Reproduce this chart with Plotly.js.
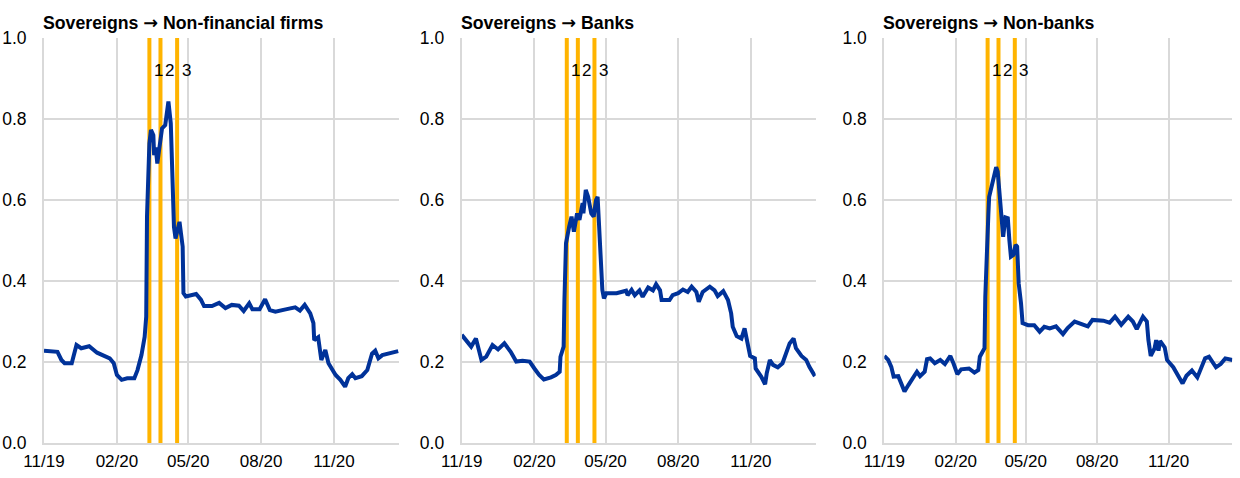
<!DOCTYPE html>
<html>
<head>
<meta charset="utf-8">
<script src="https://cdn.plot.ly/plotly-3.0.1.min.js"></script>
<style>html,body{margin:0;padding:0;background:#fff;}#chart{width:1240px;height:478px;}</style>
</head>
<body>
<div id="chart"></div>
<script>
const panelTitles = ['Sovereigns <span style="font-family:\'DejaVu Sans\'">\u2192</span> Non-financial firms', 'Sovereigns <span style="font-family:\'DejaVu Sans\'">\u2192</span> Banks', 'Sovereigns <span style="font-family:\'DejaVu Sans\'">\u2192</span> Non-banks'];

const nfcDates = ['2019-11-01','2019-11-12','2019-11-18','2019-11-23','2019-11-27','2019-12-06','2019-12-12','2019-12-18','2019-12-28','2020-01-07','2020-01-23','2020-01-28','2020-02-01','2020-02-07','2020-02-14','2020-02-23','2020-02-27','2020-03-03','2020-03-07','2020-03-09','2020-03-10','2020-03-13','2020-03-15','2020-03-18','2020-03-19','2020-03-21','2020-03-23','2020-03-25','2020-03-29','2020-04-02','2020-04-06','2020-04-09','2020-04-11','2020-04-13','2020-04-15','2020-04-20','2020-04-24','2020-04-25','2020-04-28','2020-05-11','2020-05-17','2020-05-21','2020-05-31','2020-06-09','2020-06-17','2020-06-25','2020-07-04','2020-07-10','2020-07-17','2020-07-21','2020-07-30','2020-08-06','2020-08-12','2020-08-19','2020-09-01','2020-09-13','2020-09-19','2020-09-25','2020-10-02','2020-10-06','2020-10-07','2020-10-12','2020-10-16','2020-10-21','2020-10-25','2020-11-03','2020-11-09','2020-11-15','2020-11-19','2020-11-24','2020-11-28','2020-12-06','2020-12-13','2020-12-19','2020-12-23','2020-12-27','2021-01-01','2021-01-09','2021-01-21'];
const nfcValues = [0.228,0.226,0.225,0.205,0.197,0.197,0.242,0.234,0.239,0.223,0.209,0.197,0.168,0.156,0.160,0.160,0.180,0.217,0.262,0.312,0.559,0.740,0.773,0.760,0.711,0.730,0.690,0.720,0.777,0.785,0.843,0.789,0.649,0.534,0.505,0.546,0.485,0.370,0.362,0.368,0.354,0.338,0.338,0.346,0.333,0.341,0.339,0.326,0.345,0.330,0.330,0.355,0.328,0.324,0.330,0.335,0.327,0.341,0.320,0.296,0.254,0.261,0.205,0.230,0.197,0.168,0.156,0.139,0.160,0.170,0.160,0.165,0.180,0.221,0.228,0.209,0.217,0.221,0.227];

const bankDates = ['2019-11-01','2019-11-09','2019-11-13','2019-11-19','2019-11-26','2019-12-02','2019-12-10','2019-12-17','2019-12-25','2020-01-02','2020-01-09','2020-01-17','2020-01-26','2020-02-01','2020-02-07','2020-02-13','2020-02-22','2020-02-28','2020-03-04','2020-03-05','2020-03-09','2020-03-10','2020-03-12','2020-03-16','2020-03-19','2020-03-22','2020-03-24','2020-03-26','2020-03-29','2020-04-02','2020-04-03','2020-04-06','2020-04-09','2020-04-13','2020-04-16','2020-04-19','2020-04-21','2020-04-23','2020-04-24','2020-04-27','2020-04-29','2020-05-02','2020-05-15','2020-05-27','2020-05-29','2020-06-03','2020-06-07','2020-06-13','2020-06-17','2020-06-24','2020-06-30','2020-07-04','2020-07-09','2020-07-11','2020-07-21','2020-07-25','2020-08-01','2020-08-07','2020-08-13','2020-08-18','2020-08-24','2020-08-27','2020-09-01','2020-09-10','2020-09-16','2020-09-20','2020-09-27','2020-10-03','2020-10-07','2020-10-09','2020-10-14','2020-10-20','2020-10-24','2020-10-27','2020-10-31','2020-11-06','2020-11-07','2020-11-14','2020-11-19','2020-11-21','2020-11-25','2020-11-29','2020-12-05','2020-12-11','2020-12-16','2020-12-20','2020-12-25','2020-12-28','2021-01-04','2021-01-10','2021-01-14','2021-01-21'];
const bankValues = [0.267,0.250,0.238,0.258,0.205,0.213,0.242,0.231,0.246,0.225,0.201,0.203,0.201,0.184,0.168,0.157,0.162,0.168,0.176,0.213,0.238,0.353,0.493,0.534,0.559,0.522,0.551,0.567,0.551,0.592,0.567,0.625,0.608,0.567,0.559,0.600,0.608,0.534,0.452,0.378,0.357,0.370,0.370,0.376,0.365,0.378,0.365,0.377,0.361,0.384,0.377,0.392,0.377,0.353,0.353,0.365,0.370,0.379,0.373,0.386,0.373,0.349,0.373,0.386,0.377,0.363,0.375,0.353,0.320,0.287,0.264,0.258,0.283,0.258,0.215,0.209,0.184,0.164,0.145,0.172,0.205,0.193,0.187,0.197,0.221,0.246,0.258,0.234,0.215,0.205,0.188,0.165];

const nonbankDates = ['2019-11-01','2019-11-06','2019-11-10','2019-11-13','2019-11-19','2019-11-23','2019-11-27','2019-12-02','2019-12-08','2019-12-13','2019-12-17','2019-12-23','2019-12-26','2019-12-30','2020-01-05','2020-01-12','2020-01-18','2020-01-25','2020-01-29','2020-02-03','2020-02-08','2020-02-18','2020-02-25','2020-03-01','2020-03-03','2020-03-09','2020-03-10','2020-03-12','2020-03-14','2020-03-15','2020-03-20','2020-03-24','2020-03-26','2020-03-29','2020-04-02','2020-04-05','2020-04-08','2020-04-10','2020-04-12','2020-04-15','2020-04-18','2020-04-20','2020-04-22','2020-04-25','2020-04-27','2020-05-04','2020-05-12','2020-05-19','2020-05-25','2020-06-01','2020-06-09','2020-06-18','2020-06-24','2020-07-03','2020-07-11','2020-07-20','2020-07-26','2020-08-09','2020-08-17','2020-08-24','2020-09-01','2020-09-10','2020-09-16','2020-09-21','2020-09-29','2020-10-04','2020-10-06','2020-10-09','2020-10-14','2020-10-16','2020-10-19','2020-10-21','2020-10-27','2020-10-30','2020-11-07','2020-11-13','2020-11-19','2020-11-24','2020-12-01','2020-12-08','2020-12-14','2020-12-18','2020-12-23','2021-01-01','2021-01-07','2021-01-13','2021-01-22'];
const nonbankValues = [0.215,0.205,0.188,0.164,0.165,0.147,0.127,0.143,0.160,0.176,0.165,0.176,0.207,0.209,0.197,0.205,0.195,0.215,0.197,0.170,0.182,0.184,0.174,0.180,0.213,0.234,0.361,0.501,0.567,0.608,0.649,0.681,0.670,0.596,0.509,0.557,0.555,0.501,0.460,0.464,0.489,0.485,0.394,0.345,0.296,0.291,0.291,0.275,0.287,0.283,0.288,0.269,0.284,0.300,0.294,0.288,0.304,0.302,0.297,0.312,0.292,0.312,0.300,0.281,0.312,0.300,0.254,0.215,0.234,0.254,0.228,0.252,0.236,0.205,0.187,0.168,0.147,0.166,0.179,0.162,0.193,0.209,0.213,0.187,0.195,0.209,0.205];

const eventDates = ['2020-03-13','2020-03-27','2020-04-17'];
const eventLabels = ['1','2','3'];

const yTickVals = [0, 0.2, 0.4, 0.6, 0.8, 1.0];

const FONT = 'Arial, "Liberation Sans", sans-serif';
const BLUE = '#003299';
const ORANGE = '#FFB400';
const GRID = '#D9D9D9';
const xDomains = [[0.03548, 0.32177], [0.37234, 0.65782], [0.71315, 0.99379]];
const yDomain = [0.0732, 0.9205];
const xRange = ['2019-11-01', '2021-01-22'];

const series = [[nfcDates, nfcValues], [bankDates, bankValues], [nonbankDates, nonbankValues]];

const traces = [];
const layout = {
  width: 1240, height: 478,
  margin: {l: 0, r: 0, t: 0, b: 0},
  paper_bgcolor: '#fff', plot_bgcolor: '#fff',
  showlegend: false,
  font: {family: FONT, color: '#000', size: 17},
  annotations: []
};

series.forEach(function (s, i) {
  const n = i === 0 ? '' : String(i + 1);
  eventDates.forEach(function (d, k) {
    traces.push({
      x: [d, d], y: [0, 1], type: 'scatter', mode: 'lines',
      xaxis: 'x' + n, yaxis: 'y' + n, cliponaxis: false,
      line: {color: ORANGE, width: 4}, hoverinfo: 'skip'
    });
    layout.annotations.push({
      x: d, y: 0.92, xref: 'x' + n, yref: 'y' + n,
      text: eventLabels[k], showarrow: false,
      xanchor: 'left', yanchor: 'middle', xshift: 2.5,
      font: {family: FONT, size: 17, color: '#000'}
    });
  });
  traces.push({
    x: s[0], y: s[1], type: 'scatter', mode: 'lines',
    xaxis: 'x' + n, yaxis: 'y' + n,
    line: {color: BLUE, width: 4}, hoverinfo: 'skip'
  });
  layout['xaxis' + n] = {
    domain: xDomains[i], anchor: 'y' + n, type: 'date', range: xRange,
    tick0: '2019-11-01', dtick: 'M3', tickformat: '%m/%y',
    showgrid: true, gridcolor: GRID, gridwidth: 2,
    showline: true, linecolor: GRID, linewidth: 2,
    ticks: '', ticklabelstandoff: 2, zeroline: false,
    tickfont: {family: FONT, size: 17, color: '#000'}
  };
  layout['yaxis' + n] = {
    domain: yDomain, anchor: 'x' + n, range: [0, 1],
    tickvals: yTickVals, tickformat: '.1f',
    showgrid: true, gridcolor: GRID, gridwidth: 2,
    showline: true, linecolor: GRID, linewidth: 2,
    ticks: '', ticklabelstandoff: 12, zeroline: false,
    tickfont: {family: FONT, size: 17.5, color: '#000'}
  };
  layout.annotations.push({
    x: xDomains[i][0], y: 0.952, xref: 'paper', yref: 'paper',
    text: '<b>' + panelTitles[i] + '</b>', showarrow: false,
    xanchor: 'left', yanchor: 'middle', xshift: -3,
    font: {family: FONT, size: 17.7, color: '#000'}
  });
});

Plotly.newPlot('chart', traces, layout, {staticPlot: true, displayModeBar: false});
</script>
</body>
</html>
